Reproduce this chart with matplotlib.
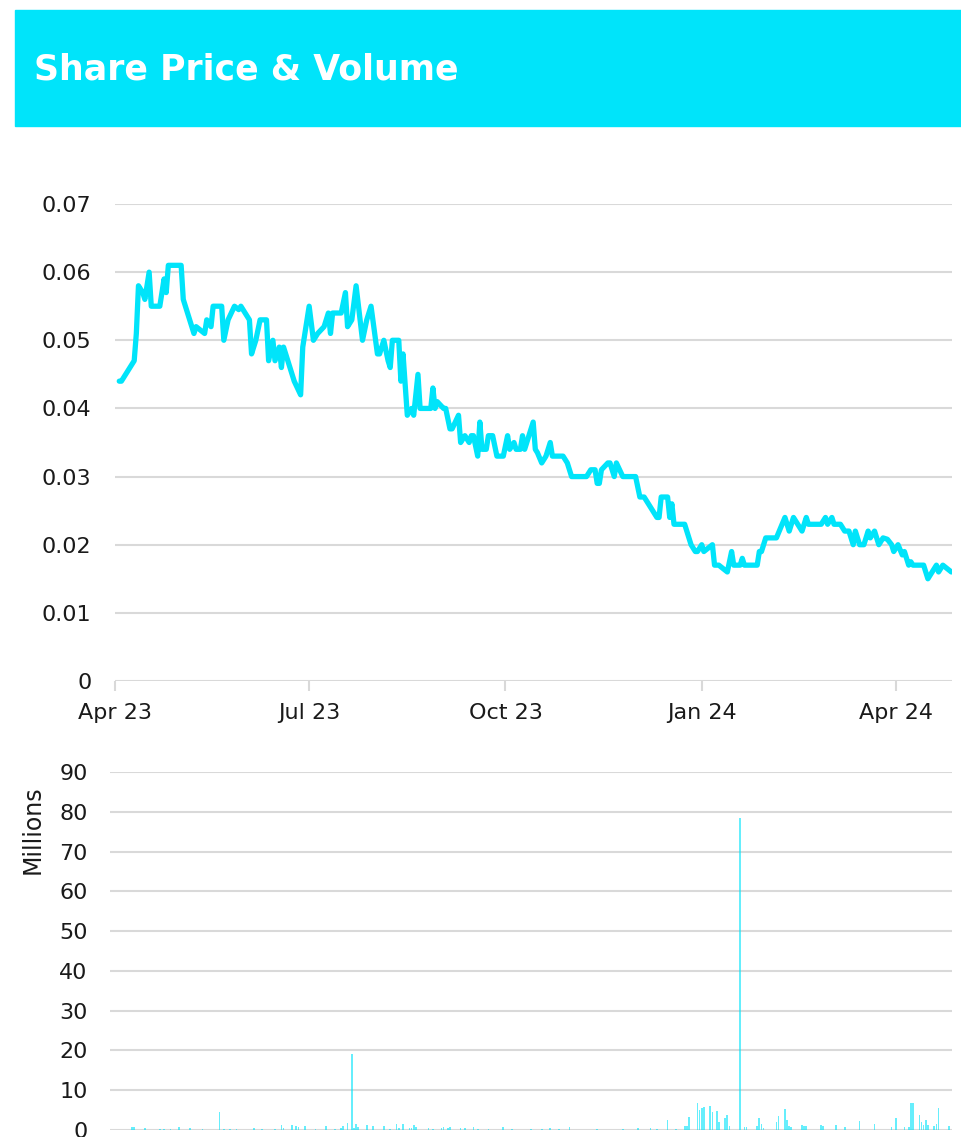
import datetime as dt
import matplotlib
matplotlib.use("Agg")
import matplotlib.pyplot as plt
import matplotlib.dates as mdates
from matplotlib.patches import Rectangle

# share price (closing)
price_dates = [
    "2023-04-03", "2023-04-04", "2023-04-10", "2023-04-11", "2023-04-12", "2023-04-14",
    "2023-04-15", "2023-04-17", "2023-04-18", "2023-04-22", "2023-04-24", "2023-04-25",
    "2023-04-26", "2023-05-02", "2023-05-03", "2023-05-05", "2023-05-08", "2023-05-09",
    "2023-05-13", "2023-05-14", "2023-05-16", "2023-05-17", "2023-05-21", "2023-05-22",
    "2023-05-24", "2023-05-27", "2023-05-29", "2023-05-30", "2023-06-01", "2023-06-03",
    "2023-06-04", "2023-06-06", "2023-06-08", "2023-06-11", "2023-06-12", "2023-06-14",
    "2023-06-15", "2023-06-17", "2023-06-18", "2023-06-19", "2023-06-24", "2023-06-27",
    "2023-06-28", "2023-07-01", "2023-07-03", "2023-07-05", "2023-07-08", "2023-07-10",
    "2023-07-11", "2023-07-12", "2023-07-16", "2023-07-18", "2023-07-19", "2023-07-21",
    "2023-07-23", "2023-07-26", "2023-07-28", "2023-07-30", "2023-08-02", "2023-08-03",
    "2023-08-05", "2023-08-07", "2023-08-08", "2023-08-09", "2023-08-12", "2023-08-13",
    "2023-08-14", "2023-08-16", "2023-08-18", "2023-08-19", "2023-08-21", "2023-08-22",
    "2023-08-27", "2023-08-28", "2023-08-29", "2023-08-30", "2023-09-02", "2023-09-03",
    "2023-09-05", "2023-09-06", "2023-09-09", "2023-09-10", "2023-09-12", "2023-09-14",
    "2023-09-15", "2023-09-16", "2023-09-18", "2023-09-19", "2023-09-20", "2023-09-22",
    "2023-09-23", "2023-09-25", "2023-09-27", "2023-09-30", "2023-10-02", "2023-10-03",
    "2023-10-05", "2023-10-06", "2023-10-08", "2023-10-09", "2023-10-10", "2023-10-12",
    "2023-10-14", "2023-10-15", "2023-10-16", "2023-10-18", "2023-10-20", "2023-10-22",
    "2023-10-23", "2023-10-28", "2023-10-30", "2023-11-01", "2023-11-08", "2023-11-10",
    "2023-11-12", "2023-11-13", "2023-11-14", "2023-11-15", "2023-11-18", "2023-11-19",
    "2023-11-21", "2023-11-22", "2023-11-25", "2023-12-01", "2023-12-03", "2023-12-05",
    "2023-12-07", "2023-12-09", "2023-12-11", "2023-12-12", "2023-12-13", "2023-12-16",
    "2023-12-17", "2023-12-18", "2023-12-19", "2023-12-24", "2023-12-25", "2023-12-27",
    "2023-12-29", "2023-12-30", "2024-01-01", "2024-01-02", "2024-01-06", "2024-01-07",
    "2024-01-09", "2024-01-11", "2024-01-13", "2024-01-15", "2024-01-16", "2024-01-19",
    "2024-01-20", "2024-01-21", "2024-01-27", "2024-01-28", "2024-01-29", "2024-01-31",
    "2024-02-05", "2024-02-07", "2024-02-09", "2024-02-11", "2024-02-13", "2024-02-14",
    "2024-02-17", "2024-02-19", "2024-02-20", "2024-02-26", "2024-02-28", "2024-02-29",
    "2024-03-02", "2024-03-03", "2024-03-06", "2024-03-08", "2024-03-10", "2024-03-12",
    "2024-03-13", "2024-03-15", "2024-03-17", "2024-03-19", "2024-03-20", "2024-03-22",
    "2024-03-24", "2024-03-26", "2024-03-28", "2024-03-30", "2024-03-31", "2024-04-02",
    "2024-04-04", "2024-04-05", "2024-04-07", "2024-04-08", "2024-04-09", "2024-04-14",
    "2024-04-16", "2024-04-18", "2024-04-20", "2024-04-21", "2024-04-23", "2024-04-25",
    "2024-04-27",
]
price_values = [
    0.044, 0.044, 0.047, 0.051, 0.058, 0.057,
    0.056, 0.060, 0.055, 0.055, 0.059, 0.057,
    0.061, 0.061, 0.056, 0.054, 0.051, 0.052,
    0.051, 0.053, 0.052, 0.055, 0.055, 0.050,
    0.053, 0.055, 0.0545, 0.055, 0.054, 0.053,
    0.048, 0.050, 0.053, 0.053, 0.047, 0.050,
    0.047, 0.049, 0.046, 0.049, 0.044, 0.042,
    0.049, 0.055, 0.050, 0.051, 0.052, 0.054,
    0.051, 0.054, 0.054, 0.057, 0.052, 0.053,
    0.058, 0.050, 0.053, 0.055, 0.048, 0.048,
    0.050, 0.047, 0.046, 0.050, 0.050, 0.044,
    0.048, 0.039, 0.040, 0.039, 0.045, 0.040,
    0.040, 0.043, 0.040, 0.041, 0.040, 0.040,
    0.037, 0.037, 0.039, 0.035, 0.036, 0.035,
    0.036, 0.036, 0.033, 0.038, 0.034, 0.034,
    0.036, 0.036, 0.033, 0.033, 0.036, 0.034,
    0.035, 0.034, 0.034, 0.036, 0.034, 0.036,
    0.038, 0.034, 0.0335, 0.032, 0.033, 0.035,
    0.033, 0.033, 0.032, 0.030, 0.030, 0.031,
    0.031, 0.029, 0.029, 0.031, 0.032, 0.032,
    0.030, 0.032, 0.030, 0.030, 0.027, 0.027,
    0.026, 0.025, 0.024, 0.024, 0.027, 0.027,
    0.024, 0.026, 0.023, 0.023, 0.022, 0.020,
    0.019, 0.019, 0.020, 0.019, 0.020, 0.017,
    0.017, 0.0165, 0.016, 0.019, 0.017, 0.017,
    0.018, 0.017, 0.017, 0.019, 0.019, 0.021,
    0.021, 0.0225, 0.024, 0.022, 0.024, 0.0235,
    0.022, 0.024, 0.023, 0.023, 0.024, 0.023,
    0.024, 0.023, 0.023, 0.022, 0.022, 0.020,
    0.022, 0.020, 0.020, 0.022, 0.021, 0.022,
    0.020, 0.021, 0.0208, 0.020, 0.019, 0.020,
    0.0185, 0.019, 0.017, 0.0175, 0.017, 0.017,
    0.015, 0.016, 0.017, 0.016, 0.017, 0.0165,
    0.016,
]

# daily volume in millions of shares
volume_dates = [
    "2023-04-09", "2023-04-10", "2023-04-15", "2023-04-22", "2023-04-24", "2023-04-27",
    "2023-05-01", "2023-05-06", "2023-05-12", "2023-05-20", "2023-05-22", "2023-05-25",
    "2023-05-28", "2023-06-05", "2023-06-09", "2023-06-15", "2023-06-18", "2023-06-19",
    "2023-06-23", "2023-06-25", "2023-06-26", "2023-06-29", "2023-07-04", "2023-07-09",
    "2023-07-13", "2023-07-16", "2023-07-17", "2023-07-19", "2023-07-21", "2023-07-22",
    "2023-07-23", "2023-07-24", "2023-07-28", "2023-07-31", "2023-08-05", "2023-08-08",
    "2023-08-11", "2023-08-12", "2023-08-14", "2023-08-17", "2023-08-18", "2023-08-19",
    "2023-08-20", "2023-08-26", "2023-08-28", "2023-09-01", "2023-09-02", "2023-09-04",
    "2023-09-05", "2023-09-10", "2023-09-12", "2023-09-16", "2023-09-18", "2023-09-23",
    "2023-09-30", "2023-10-04", "2023-10-13", "2023-10-18", "2023-10-22", "2023-10-26",
    "2023-10-31", "2023-11-13", "2023-11-25", "2023-12-02", "2023-12-08", "2023-12-11",
    "2023-12-16", "2023-12-20", "2023-12-24", "2023-12-25", "2023-12-26", "2023-12-30",
    "2023-12-31", "2024-01-01", "2024-01-02", "2024-01-05", "2024-01-06", "2024-01-08",
    "2024-01-09", "2024-01-12", "2024-01-13", "2024-01-14", "2024-01-19", "2024-01-21",
    "2024-01-22", "2024-01-27", "2024-01-28", "2024-01-29", "2024-01-30", "2024-02-05",
    "2024-02-06", "2024-02-09", "2024-02-10", "2024-02-11", "2024-02-12", "2024-02-17",
    "2024-02-18", "2024-02-19", "2024-02-26", "2024-02-27", "2024-03-04", "2024-03-08",
    "2024-03-15", "2024-03-22", "2024-03-30", "2024-04-01", "2024-04-05", "2024-04-07",
    "2024-04-08", "2024-04-09", "2024-04-12", "2024-04-13", "2024-04-14", "2024-04-15",
    "2024-04-16", "2024-04-19", "2024-04-20", "2024-04-21", "2024-04-26",
]
volume_millions = [
    0.7, 0.7, 0.5, 0.35, 0.35, 0.3,
    0.75, 0.5, 0.2, 4.4, 0.35, 0.3,
    0.35, 0.6, 0.2, 0.3, 1.3, 0.6,
    1.3, 1.0, 0.75, 1.0, 0.2, 1.1,
    0.2, 0.6, 1.0, 1.7, 19.0, 0.6,
    1.5, 0.75, 1.3, 1.0, 0.9, 0.2,
    1.4, 0.4, 1.4, 0.4, 0.4, 1.3,
    0.75, 0.4, 0.2, 0.4, 0.7, 0.4,
    0.85, 0.4, 0.4, 0.75, 0.2, 0.35,
    0.7, 0.2, 0.2, 0.2, 0.4, 0.2,
    0.7, 0.15, 0.15, 0.6, 0.4, 0.2,
    2.5, 0.3, 1.0, 1.0, 3.2, 6.9,
    5.1, 5.5, 5.9, 6.1, 4.4, 4.9,
    1.9, 3.0, 3.8, 1.0, 78.5, 0.7,
    0.7, 1.0, 3.0, 1.5, 0.6, 2.1,
    3.4, 5.2, 2.5, 1.0, 0.7, 1.3,
    1.0, 1.0, 1.3, 1.0, 1.3, 0.7,
    2.3, 1.5, 0.85, 3.0, 0.85, 0.85,
    6.9, 6.9, 3.8, 1.9, 1.3, 2.4,
    1.3, 1.0, 1.4, 5.5, 1.0,
]

price_ticks = [0, 0.01, 0.02, 0.03, 0.04, 0.05, 0.06, 0.07]
price_tick_labels = ["0", "0.01", "0.02", "0.03", "0.04", "0.05", "0.06", "0.07"]
volume_ticks = [0, 10, 20, 30, 40, 50, 60, 70, 80, 90]

CYAN = "#00e4fa"
GRID = "#d9d9d9"
TEXT = "#1a1a1a"
W, H = 961, 1137

p_dates = [dt.date.fromisoformat(d) for d in price_dates]
v_dates = [dt.date.fromisoformat(d) for d in volume_dates]

fig = plt.figure(figsize=(W / 100, H / 100), dpi=100)

# header banner
fig.patches.append(Rectangle((15 / W, 1 - 126 / H), (W - 15) / W, 116 / H,
                             transform=fig.transFigure, color=CYAN, zorder=0))
fig.text(34 / W, 1 - 69 / H, "Share Price & Volume", color="white",
         fontsize=25, fontweight="bold", va="center", ha="left")

x0 = mdates.date2num(dt.date(2023, 4, 1))
x1 = x0 + 392.3

# price chart
ax1 = fig.add_axes([115 / W, 1 - 681 / H, (952 - 115) / W, (681 - 204) / H])
ax1.plot(p_dates, price_values, color=CYAN, lw=3.8, solid_joinstyle="round",
         solid_capstyle="round", zorder=3)
ax1.set_xlim(x0, x1)
ax1.set_ylim(0, 0.07)
ax1.set_yticks(price_ticks)
ax1.set_yticklabels(price_tick_labels)
ax1.xaxis.set_major_locator(mdates.MonthLocator(bymonth=[1, 4, 7, 10]))
ax1.xaxis.set_major_formatter(mdates.DateFormatter("%b %y"))
ax1.yaxis.grid(True, color=GRID, lw=1.5)
ax1.set_axisbelow(True)
for s in ax1.spines.values():
    s.set_visible(False)
ax1.tick_params(axis="y", length=0, pad=17, labelsize=16, labelcolor=TEXT)
ax1.tick_params(axis="x", length=7, width=1.5, color=GRID, pad=9,
                labelsize=16, labelcolor=TEXT)

# volume chart
ax2 = fig.add_axes([110 / W, 1 - 1130 / H, (952 - 110) / W, (1130 - 772) / H])
ax2.bar(v_dates, volume_millions, width=0.8, color=CYAN, alpha=0.6, lw=0, zorder=3)
ax2.set_xlim(x0 - 5 / 2.135, x1)
ax2.set_ylim(0, 90)
ax2.set_yticks(volume_ticks)
ax2.set_xticks([])
ax2.yaxis.grid(True, color=GRID, lw=1.5)
ax2.set_axisbelow(True)
for s in ax2.spines.values():
    s.set_visible(False)
ax2.tick_params(axis="y", length=0, pad=16, labelsize=16, labelcolor=TEXT)

fig.text(33 / W, 1 - 830 / H, "Millions", rotation=90, ha="center", va="center",
         fontsize=17, color=TEXT)

fig.savefig("out.png", dpi=100)
